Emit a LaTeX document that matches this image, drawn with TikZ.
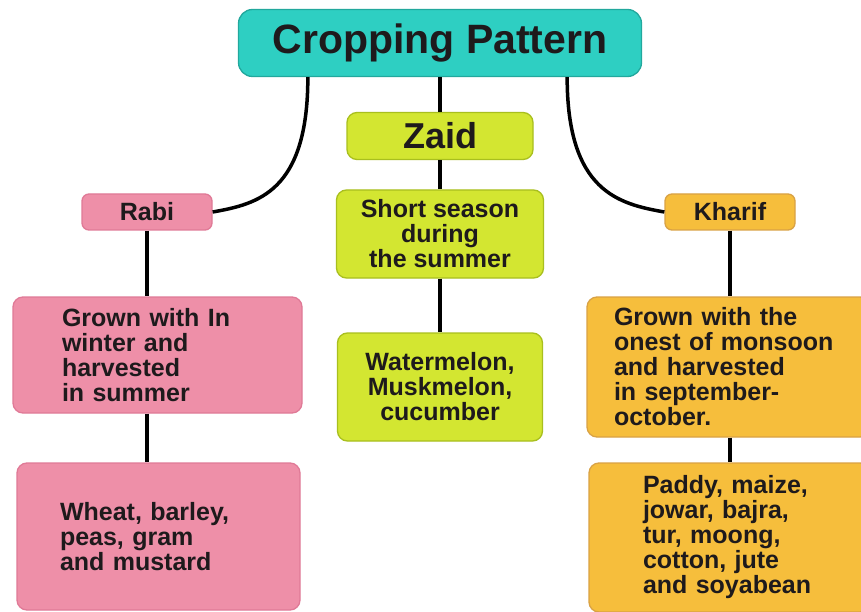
\documentclass[tikz,border=0pt]{standalone}
\usepackage{fontspec}
\setmainfont{Liberation Sans}
\usetikzlibrary{positioning}

\definecolor{tealfill}{HTML}{2ECFC2}
\definecolor{tealline}{HTML}{22A89D}
\definecolor{zaidfill}{HTML}{D3E631}
\definecolor{zaidline}{HTML}{A9BF1E}
\definecolor{rabifill}{HTML}{EE8FA8}
\definecolor{rabiline}{HTML}{E07A97}
\definecolor{kharfill}{HTML}{F6BE3C}
\definecolor{kharline}{HTML}{D9A245}
\definecolor{inkc}{HTML}{1E1A1C}

\begin{document}
\begin{tikzpicture}[
        x=1pt, y=1pt,
        box/.style={draw, rounded corners=10pt, line width=1.3pt, text=inkc,
            font=\bfseries\fontsize{25}{25}\selectfont, align=center, inner sep=2pt},
        descbox/.style={box, align=left},
        zaidbox/.style={box, fill=zaidfill, draw=zaidline},
        rabibox/.style={box, fill=rabifill, draw=rabiline},
        kharbox/.style={box, fill=kharfill, draw=kharline},
        link/.style={line width=4pt, black},
        curvelink/.style={line width=3.5pt, black}
    ]
        \useasboundingbox (0,0) rectangle (861,-612);
        \fill[white] (0,0) rectangle (861,-612);
        \clip (0,0) rectangle (861,-612);

        % Title
        \node[box, fill=tealfill, draw=tealline, rounded corners=14pt,
            minimum width=403pt, minimum height=67pt,
            font=\bfseries\fontsize{41}{43}\selectfont] (title) at (440,-43) {Cropping Pattern};

        % Zaid column
        \node[zaidbox, minimum width=186pt, minimum height=47pt,
            font=\bfseries\fontsize{36}{38}\selectfont] (zaid) at (440,-136) {Zaid};
        \node[zaidbox, minimum width=207pt, minimum height=88pt] (zshort) at (440,-234)
            {Short season\\during\\the summer};
        \node[zaidbox, minimum width=205pt, minimum height=108pt] (zcrops) at (440,-387)
            {Watermelon,\\Muskmelon,\\cucumber};

        % Rabi column
        \node[rabibox, rounded corners=7pt, minimum width=130pt, minimum height=36pt,
            font=\bfseries\fontsize{25}{26}\selectfont] (rabi) at (147,-212) {Rabi};
        \node[rabibox, descbox, text width=191pt, inner xsep=49pt,
            minimum height=116pt] (rdesc) at (157.5,-355)
            {Grown with In\\winter and\\harvested\\in summer};
        \node[rabibox, descbox, text width=197pt, inner xsep=43pt,
            minimum height=147pt] (rcrops) at (158.5,-536.5)
            {Wheat, barley,\\peas, gram\\and mustard};

        % Kharif column
        \node[kharbox, rounded corners=7pt, minimum width=130pt, minimum height=36pt,
            font=\bfseries\fontsize{25}{26}\selectfont] (kharif) at (730,-212) {Kharif};
        \node[kharbox, descbox, text width=229pt, inner xsep=27pt,
            minimum height=140pt] (kdesc) at (728.5,-367)
            {Grown with the\\onest of monsoon\\and harvested\\in september-\\october.};
        \node[kharbox, descbox, text width=173pt, inner xsep=54pt,
            minimum height=149pt] (kcrops) at (729.5,-537.5)
            {Paddy, maize,\\jowar, bajra,\\tur, moong,\\cotton, jute\\and soyabean};

        % Connections
        \draw[link] (title) -- (zaid);
        \draw[link] (zaid) -- (zshort);
        \draw[link] (zshort) -- (zcrops);
        \draw[link] (rabi.south) -- (rabi.south |- rdesc.north);
        \draw[link] (rdesc.south -| rabi) -- (rcrops.north -| rabi);
        \draw[link] (kharif.south) -- (kharif.south |- kdesc.north);
        \draw[link] (kdesc.south -| kharif) -- (kcrops.north -| kharif);
        \draw[curvelink] ([xshift=70pt]title.south west) .. controls +(0,-115) and +(45,8) .. (rabi.east);
        \draw[curvelink] ([xshift=-75pt]title.south east) .. controls +(0,-115) and +(-45,8) .. (kharif.west);
    \end{tikzpicture}
\end{document}
